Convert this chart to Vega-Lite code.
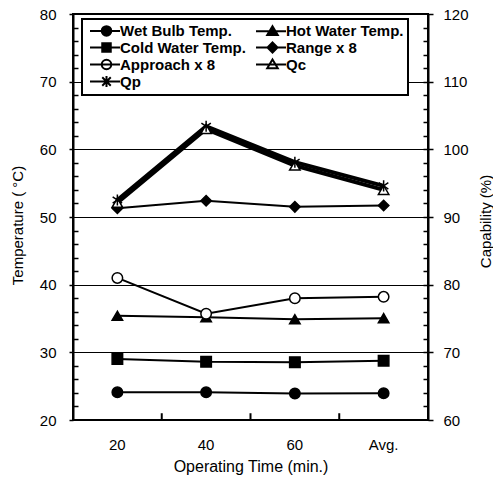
{
  "$schema": "https://vega.github.io/schema/vega-lite/v6.json",
  "width": 355,
  "height": 406,
  "autosize": "none",
  "padding": {"left": 73, "top": 14, "right": 65, "bottom": 62},
  "background": "white",
  "config": {
    "view": {"stroke": "black", "strokeWidth": 2},
    "font": "Liberation Sans",
    "axis": {
      "domainColor": "black",
      "domainWidth": 2,
      "tickColor": "black",
      "tickWidth": 1.5,
      "labelColor": "black",
      "titleColor": "black",
      "labelFont": "Liberation Sans",
      "titleFont": "Liberation Sans",
      "labelFontSize": 15,
      "titleFontSize": 15,
      "titleFontWeight": "normal",
      "gridColor": "black",
      "gridWidth": 1,
      "gridOpacity": 1
    },
    "legend": {
      "orient": "none",
      "legendX": 9,
      "legendY": 5,
      "columns": 2,
      "direction": "horizontal",
      "strokeColor": "black",
      "strokeWidth": 2,
      "fillColor": "white",
      "padding": 4,
      "rowPadding": -4.5,
      "columnPadding": 6,
      "labelFont": "Liberation Sans",
      "labelFontSize": 15,
      "labelFontWeight": "bold",
      "labelColor": "black",
      "labelOffset": 6,
      "symbolOffset": 13,
      "symbolSize": 100,
      "symbolOpacity": 1,
      "symbolStrokeColor": "black",
      "symbolStrokeWidth": 2,
      "title": null
    }
  },
  "data": {
    "values": [
      {"time": "20", "series": "Wet Bulb Temp.", "axis": "T", "value": 24.1},
      {"time": "40", "series": "Wet Bulb Temp.", "axis": "T", "value": 24.1},
      {"time": "60", "series": "Wet Bulb Temp.", "axis": "T", "value": 23.9},
      {"time": "Avg.", "series": "Wet Bulb Temp.", "axis": "T", "value": 23.95},
      {"time": "20", "series": "Hot Water Temp.", "axis": "T", "value": 35.4},
      {"time": "40", "series": "Hot Water Temp.", "axis": "T", "value": 35.2},
      {"time": "60", "series": "Hot Water Temp.", "axis": "T", "value": 34.9},
      {"time": "Avg.", "series": "Hot Water Temp.", "axis": "T", "value": 35.05},
      {"time": "20", "series": "Cold Water Temp.", "axis": "T", "value": 29.0},
      {"time": "40", "series": "Cold Water Temp.", "axis": "T", "value": 28.6},
      {"time": "60", "series": "Cold Water Temp.", "axis": "T", "value": 28.55},
      {"time": "Avg.", "series": "Cold Water Temp.", "axis": "T", "value": 28.75},
      {"time": "20", "series": "Range x 8", "axis": "T", "value": 51.3},
      {"time": "40", "series": "Range x 8", "axis": "T", "value": 52.4},
      {"time": "60", "series": "Range x 8", "axis": "T", "value": 51.5},
      {"time": "Avg.", "series": "Range x 8", "axis": "T", "value": 51.7},
      {"time": "20", "series": "Approach x 8", "axis": "T", "value": 41.0},
      {"time": "40", "series": "Approach x 8", "axis": "T", "value": 35.7},
      {"time": "60", "series": "Approach x 8", "axis": "T", "value": 38.0},
      {"time": "Avg.", "series": "Approach x 8", "axis": "T", "value": 38.2},
      {"time": "20", "series": "Qc", "axis": "C", "value": 92.1},
      {"time": "40", "series": "Qc", "axis": "C", "value": 103.0},
      {"time": "60", "series": "Qc", "axis": "C", "value": 97.6},
      {"time": "Avg.", "series": "Qc", "axis": "C", "value": 94.0},
      {"time": "20", "series": "Qp", "axis": "C", "value": 92.5},
      {"time": "40", "series": "Qp", "axis": "C", "value": 103.4},
      {"time": "60", "series": "Qp", "axis": "C", "value": 98.1},
      {"time": "Avg.", "series": "Qp", "axis": "C", "value": 94.6}
    ]
  },
  "encoding": {
    "x": {
      "field": "time",
      "type": "ordinal",
      "sort": ["20", "40", "60", "Avg."],
      "scale": {"type": "band", "paddingInner": 0, "paddingOuter": 0},
      "axis": {"title": "Operating Time (min.)", "labelAngle": 0, "ticks": false, "labelPadding": 17, "titleFontSize": 16, "titlePadding": 6, "domain": false, "grid": false}
    }
  },
  "layer": [
    {
      "transform": [{"filter": "datum.axis === 'T'"}],
      "encoding": {
        "y": {
          "field": "value",
          "type": "quantitative",
          "scale": {"domain": [20, 80], "nice": false, "zero": false},
          "axis": {"title": "Temperature ( °C)", "orient": "left", "values": [20, 30, 40, 50, 60, 70, 80], "grid": true, "tickSize": 4, "labelPadding": 13, "titleX": -56, "titleY": 211, "titleBaseline": "middle", "titleAngle": 270}
        }
      },
      "layer": [
        {
          "mark": {"type": "line", "stroke": "black", "strokeWidth": 2},
          "encoding": {"detail": {"field": "series"}}
        },
        {
          "mark": {"type": "point", "filled": true, "stroke": "black", "strokeWidth": 1.5, "size": 110, "opacity": 1},
          "encoding": {
            "shape": {
              "field": "series",
              "type": "nominal",
              "scale": {
                "domain": ["Wet Bulb Temp.", "Hot Water Temp.", "Cold Water Temp.", "Range x 8", "Approach x 8", "Qc", "Qp"],
                "range": ["circle", "triangle-up", "square", "diamond", "circle", "triangle-up", "M-0.9,-0.6L0.9,0.6M-0.9,0.6L0.9,-0.6M0,-1.05L0,1.05"]
              },
              "legend": null
            },
            "fill": {
              "field": "series",
              "type": "nominal",
              "scale": {
                "domain": ["Wet Bulb Temp.", "Hot Water Temp.", "Cold Water Temp.", "Range x 8", "Approach x 8", "Qc", "Qp"],
                "range": ["black", "black", "black", "black", "white", "white", "black"]
              },
              "legend": null
            }
          }
        }
      ]
    },
    {
      "transform": [{"filter": "datum.axis === 'C'"}],
      "encoding": {
        "y": {
          "field": "value",
          "type": "quantitative",
          "scale": {"domain": [60, 120], "nice": false, "zero": false},
          "axis": {"title": "Capability (%)", "orient": "right", "values": [60, 70, 80, 90, 100, 110, 120], "grid": false, "tickSize": 5, "labelPadding": 10, "titleX": 57, "titleY": 207, "titleBaseline": "middle", "titleAngle": 270}
        }
      },
      "layer": [
        {
          "mark": {"type": "line", "stroke": "black", "strokeWidth": 4},
          "encoding": {"detail": {"field": "series"}}
        },
        {
          "mark": {"type": "point", "filled": true, "stroke": "black", "strokeWidth": 1.5, "size": 110, "opacity": 1},
          "encoding": {
            "shape": {
              "field": "series",
              "type": "nominal",
              "scale": {
                "domain": ["Wet Bulb Temp.", "Hot Water Temp.", "Cold Water Temp.", "Range x 8", "Approach x 8", "Qc", "Qp"],
                "range": ["circle", "triangle-up", "square", "diamond", "circle", "triangle-up", "M-0.9,-0.6L0.9,0.6M-0.9,0.6L0.9,-0.6M0,-1.05L0,1.05"]
              },
              "legend": null
            },
            "fill": {"field": "series", "type": "nominal", "legend": null}
          }
        }
      ]
    },
    {
      "transform": [{"filter": "datum.series === 'Qp'"}],
      "mark": {"type": "rule", "stroke": "black", "strokeWidth": 2},
      "encoding": {
        "x": {"field": "time", "type": "ordinal", "sort": ["20", "40", "60", "Avg."], "bandPosition": 0},
        "y": {"datum": 20, "type": "quantitative", "scale": {"domain": [20, 80], "nice": false, "zero": false}, "axis": null},
        "y2": {"datum": 21}
      }
    },
    {
      "transform": [{"filter": "datum.axis === 'T'"}],
      "mark": {"type": "point", "filled": true, "opacity": 0},
      "encoding": {
        "y": {
          "field": "value",
          "type": "quantitative",
          "scale": {"domain": [20, 80], "nice": false, "zero": false},
          "axis": {"orient": "left", "title": null, "labels": false, "domain": false, "grid": false, "tickSize": 5, "tickWidth": 1.5, "offset": -5, "values": [22, 24, 26, 28, 32, 34, 36, 38, 42, 44, 46, 48, 52, 54, 56, 58, 62, 64, 66, 68, 72, 74, 76, 78]}
        },
        "shape": {
          "field": "series",
          "type": "nominal",
          "scale": {
            "domain": ["Wet Bulb Temp.", "Hot Water Temp.", "Cold Water Temp.", "Range x 8", "Approach x 8", "Qc", "Qp"],
            "range": [
              "M-3.3,0L2.7,0M-0.95,0A0.95,0.95,0,1,0,0.95,0A0.95,0.95,0,1,0,-0.95,0Z",
              "M-3.3,0L2.7,0M0,-1L1.05,0.75L-1.05,0.75Z",
              "M-3.3,0L2.7,0M-0.85,-0.85L0.85,-0.85L0.85,0.85L-0.85,0.85Z",
              "M-3.3,0L2.7,0M0,-1L1,0L0,1L-1,0Z",
              "M-3.3,0L2.7,0M-0.95,0A0.95,0.95,0,1,0,0.95,0A0.95,0.95,0,1,0,-0.95,0Z",
              "M-3.3,0L2.7,0M0,-1L1.05,0.75L-1.05,0.75Z",
              "M-3.3,0L2.7,0M-0.85,-0.85L0.85,0.85M-0.85,0.85L0.85,-0.85M0,-1.1L0,1.1"
            ]
          },
          "legend": {
            "encoding": {
              "symbols": {
                "fill": {"value": {"expr": "datum.value === 'Approach x 8' || datum.value === 'Qc' ? 'white' : 'black'"}},
                "stroke": {"value": "black"},
                "strokeWidth": {"value": 2},
                "opacity": {"value": 1}
              }
            }
          }
        }
      }
    },
    {
      "transform": [{"filter": "datum.axis === 'C'"}],
      "mark": {"type": "point", "opacity": 0},
      "encoding": {
        "y": {
          "field": "value",
          "type": "quantitative",
          "scale": {"domain": [60, 120], "nice": false, "zero": false},
          "axis": {"orient": "right", "title": null, "labels": false, "domain": false, "grid": false, "tickSize": 5, "tickWidth": 1.5, "offset": -5, "values": [62, 64, 66, 68, 70, 72, 74, 76, 78, 80, 82, 84, 86, 88, 90, 92, 94, 96, 98, 100, 102, 104, 106, 108, 110, 112, 114, 116, 118]}
        }
      }
    }
  ],
  "resolve": {"scale": {"y": "independent", "shape": "independent"}, "axis": {"y": "independent"}}
}
